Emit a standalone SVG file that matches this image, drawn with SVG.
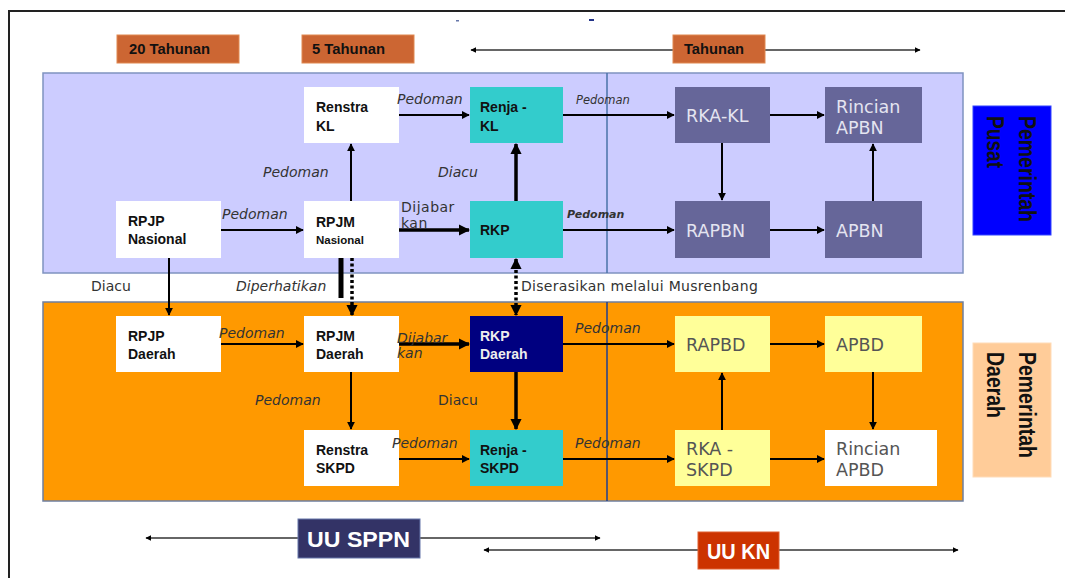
<svg xmlns="http://www.w3.org/2000/svg" width="1065" height="578" viewBox="0 0 1065 578">
<defs>
<marker id="ah" viewBox="0 0 10 10" refX="9" refY="5" markerWidth="4" markerHeight="4" orient="auto-start-reverse" markerUnits="strokeWidth"><path d="M0,0 L10,5 L0,10 z" fill="#000"/></marker>
<marker id="ahT" viewBox="0 0 10 10" refX="9" refY="5" markerWidth="3.2" markerHeight="3.2" orient="auto-start-reverse" markerUnits="strokeWidth"><path d="M0,0 L10,5 L0,10 z" fill="#000"/></marker>
</defs>
<style>
.c{stroke:#000;stroke-width:2;fill:none;marker-end:url(#ah)}
.t{stroke:#000;stroke-width:3.5;fill:none;marker-end:url(#ahT)}
.d{stroke:#000;stroke-width:3.5;fill:none;stroke-dasharray:3 2.5;marker-end:url(#ahT)}
.r{stroke:#333;stroke-width:1.5;fill:none;marker-start:url(#ah);marker-end:url(#ah)}
.nb{font-family:"Liberation Sans",Arial,sans-serif;font-weight:bold;font-size:14px;fill:#111}
.nv{font-family:"DejaVu Sans",Verdana,sans-serif;font-size:17.5px}
.lab{font-family:"DejaVu Sans",Verdana,sans-serif;font-style:italic;font-size:14px;fill:#333}
.labn{font-family:"DejaVu Sans",Verdana,sans-serif;font-size:14px;fill:#333}
.hd{font-family:"Liberation Sans",Arial,sans-serif;font-weight:bold;font-size:14px;fill:#111}
.side{font-family:"Liberation Sans",Arial,sans-serif;font-weight:bold;font-size:23px;fill:#111}
.uu{font-family:"Liberation Sans",Arial,sans-serif;font-weight:bold;font-size:22px;fill:#fff}
</style>
<rect width="1065" height="578" fill="#fff"/>
<path d="M9,578 V11 H1065" fill="none" stroke="#222" stroke-width="2"/>
<rect x="456" y="20" width="3" height="1.5" fill="#6677aa"/>
<rect x="589" y="19" width="5" height="2" fill="#223388"/>

<g id="panels">
<rect x="43" y="73" width="920" height="200" fill="#CCCCFF" stroke="#7F93C0" stroke-width="1.5"/>
<line x1="607" y1="73" x2="607" y2="273" stroke="#4A73A8" stroke-width="1.5"/>
<rect x="43" y="302" width="920" height="199" fill="#FF9900" stroke="#6E7FA0" stroke-width="1.5"/>
<line x1="607" y1="302" x2="607" y2="501" stroke="#1F3F8F" stroke-width="1.5"/>
</g>

<g id="timeline">
<line x1="471" y1="50" x2="920" y2="50" class="r"/>
<line x1="146" y1="538" x2="600" y2="538" class="r"/>
<line x1="484" y1="550" x2="958" y2="550" class="r"/>
</g>
<g id="hdr20"><rect x="117" y="35" width="122" height="28" fill="#CC6633" stroke="#E08850"/><text x="129" y="54" class="hd" textLength="81" lengthAdjust="spacingAndGlyphs">20 Tahunan</text></g>
<g id="hdr5"><rect x="302" y="35" width="112" height="28" fill="#CC6633" stroke="#E08850"/><text x="312" y="54" class="hd" textLength="73" lengthAdjust="spacingAndGlyphs">5 Tahunan</text></g>
<g id="hdrT"><rect x="673" y="35" width="92" height="28" fill="#CC6633" stroke="#E08850"/><text x="684" y="54" class="hd" textLength="60" lengthAdjust="spacingAndGlyphs">Tahunan</text></g>
<g id="uusppn"><rect x="298" y="519" width="122" height="39" fill="#333366" stroke="#6677aa"/><text x="307" y="547" class="uu" textLength="103" lengthAdjust="spacingAndGlyphs">UU SPPN</text></g>
<g id="uukn"><rect x="698" y="532" width="81" height="37" fill="#CC3300" stroke="#E06030"/><text x="707" y="559" class="uu" textLength="63" lengthAdjust="spacingAndGlyphs">UU KN</text></g>

<g id="pusat"><rect x="973" y="106" width="78" height="129" fill="#0000FF" stroke="#3344ff"/>
<text class="side" transform="translate(1019,116) rotate(90)" textLength="106" lengthAdjust="spacingAndGlyphs">Pemerintah</text>
<text class="side" transform="translate(987,116) rotate(90)" textLength="52" lengthAdjust="spacingAndGlyphs">Pusat</text></g>
<g id="daerah"><rect x="973" y="343" width="78" height="134" fill="#FFCC99" stroke="#ffdcb8"/>
<text class="side" transform="translate(1019,352) rotate(90)" textLength="106" lengthAdjust="spacingAndGlyphs">Pemerintah</text>
<text class="side" transform="translate(987,352) rotate(90)" textLength="66" lengthAdjust="spacingAndGlyphs">Daerah</text></g>

<g id="connectors">
<line x1="399" y1="115" x2="469" y2="115" class="c"/>
<line x1="563" y1="115" x2="674" y2="115" class="c"/>
<line x1="770" y1="115" x2="824" y2="115" class="c"/>
<line x1="722" y1="143" x2="722" y2="200" class="c"/>
<line x1="873" y1="201" x2="873" y2="144" class="c"/>
<line x1="770" y1="230" x2="824" y2="230" class="c"/>
<line x1="563" y1="230" x2="674" y2="230" class="c"/>
<line x1="516" y1="201" x2="516" y2="144" class="t"/>
<line x1="221" y1="230" x2="303" y2="230" class="c"/>
<line x1="351" y1="201" x2="351" y2="144" class="c"/>
<line x1="399" y1="230" x2="469" y2="230" class="t"/>
<line x1="169" y1="258" x2="169" y2="315" class="c"/>
<line x1="341" y1="254" x2="341" y2="298" stroke="#000" stroke-width="5"/>
<line x1="352" y1="258" x2="352" y2="315" class="d"/>
<line x1="516" y1="259" x2="516" y2="315" class="d" style="marker-start:url(#ahT)"/>
<line x1="221" y1="344" x2="303" y2="344" class="c"/>
<line x1="399" y1="344" x2="469" y2="344" class="t"/>
<line x1="563" y1="344" x2="674" y2="344" class="c"/>
<line x1="770" y1="344" x2="824" y2="344" class="c"/>
<line x1="873" y1="372" x2="873" y2="429" class="c"/>
<line x1="722" y1="430" x2="722" y2="373" class="c"/>
<line x1="770" y1="459" x2="824" y2="459" class="c"/>
<line x1="563" y1="459" x2="674" y2="459" class="c"/>
<line x1="399" y1="459" x2="469" y2="459" class="c"/>
<line x1="351" y1="372" x2="351" y2="429" class="c"/>
<line x1="516" y1="372" x2="516" y2="429" class="t"/>
</g>

<g id="renstraKL"><rect x="304" y="87" width="95" height="56" fill="#fff"/><text x="316" y="112" class="nb">Renstra</text><text x="316" y="131" class="nb">KL</text></g>
<g id="renjaKL"><rect x="470" y="87" width="93" height="56" fill="#33CCCC"/><text x="480" y="112" class="nb">Renja -</text><text x="480" y="131" class="nb">KL</text></g>
<g id="rkaKL"><rect x="675" y="87" width="95" height="56" fill="#666699"/><text x="686" y="122" class="nv" fill="#E4E4F0">RKA-KL</text></g>
<g id="rincianAPBN"><rect x="825" y="87" width="97" height="56" fill="#666699"/><text x="836" y="113" class="nv" fill="#E4E4F0">Rincian</text><text x="836" y="134" class="nv" fill="#E4E4F0">APBN</text></g>
<g id="rpjpNas"><rect x="116" y="201" width="105" height="57" fill="#fff"/><text x="128" y="226" class="nb">RPJP</text><text x="128" y="244" class="nb">Nasional</text></g>
<g id="rpjmNas"><rect x="304" y="201" width="95" height="57" fill="#fff"/><text x="316" y="227" class="nb">RPJM</text><text x="316" y="244" class="nb" style="font-size:11.5px">Nasional</text></g>
<g id="rkp"><rect x="470" y="201" width="93" height="57" fill="#33CCCC"/><text x="480" y="235" class="nb">RKP</text></g>
<g id="rapbn"><rect x="675" y="201" width="95" height="57" fill="#666699"/><text x="686" y="237" class="nv" fill="#E4E4F0">RAPBN</text></g>
<g id="apbn"><rect x="825" y="201" width="97" height="57" fill="#666699"/><text x="836" y="237" class="nv" fill="#E4E4F0">APBN</text></g>

<g id="rpjpDaerah"><rect x="116" y="316" width="105" height="56" fill="#fff"/><text x="128" y="341" class="nb">RPJP</text><text x="128" y="359" class="nb">Daerah</text></g>
<g id="rpjmDaerah"><rect x="304" y="316" width="95" height="56" fill="#fff"/><text x="316" y="341" class="nb">RPJM</text><text x="316" y="359" class="nb">Daerah</text></g>
<g id="rkpDaerah"><rect x="470" y="316" width="93" height="56" fill="#000080"/><text x="480" y="341" class="nb" style="fill:#eee">RKP</text><text x="480" y="359" class="nb" style="fill:#eee">Daerah</text></g>
<g id="rapbd"><rect x="675" y="316" width="95" height="56" fill="#FFFF99"/><text x="686" y="351" class="nv" fill="#555">RAPBD</text></g>
<g id="apbd"><rect x="825" y="316" width="97" height="56" fill="#FFFF99"/><text x="836" y="351" class="nv" fill="#555">APBD</text></g>
<g id="renstraSKPD"><rect x="304" y="430" width="95" height="56" fill="#fff"/><text x="316" y="455" class="nb">Renstra</text><text x="316" y="473" class="nb">SKPD</text></g>
<g id="renjaSKPD"><rect x="470" y="430" width="93" height="56" fill="#33CCCC"/><text x="480" y="455" class="nb">Renja -</text><text x="480" y="473" class="nb">SKPD</text></g>
<g id="rkaSKPD"><rect x="675" y="430" width="95" height="56" fill="#FFFF99"/><text x="686" y="455" class="nv" fill="#555">RKA -</text><text x="686" y="476" class="nv" fill="#555">SKPD</text></g>
<g id="rincianAPBD"><rect x="825" y="430" width="112" height="56" fill="#fff"/><text x="836" y="455" class="nv" fill="#555">Rincian</text><text x="836" y="476" class="nv" fill="#555">APBD</text></g>

<g id="labels">
<text x="397" y="104" class="lab">Pedoman</text>
<text x="576" y="104" class="lab" style="font-size:11.5px">Pedoman</text>
<text x="567" y="218" class="lab" style="font-size:11px;font-weight:bold">Pedoman</text>
<text x="438" y="177" class="lab">Diacu</text>
<text x="263" y="177" class="lab">Pedoman</text>
<text x="222" y="219" class="lab">Pedoman</text>
<text x="401" y="212" class="labn" letter-spacing="0.5">Dijabar</text>
<text x="401" y="228" class="labn" letter-spacing="0.5">kan</text>
<text x="91" y="291" class="labn">Diacu</text>
<text x="236" y="291" class="lab">Diperhatikan</text>
<text x="521" y="291" class="labn" letter-spacing="0.3">Diserasikan melalui Musrenbang</text>
<text x="219" y="338" class="lab">Pedoman</text>
<text x="397" y="343" class="lab">Dijabar</text>
<text x="397" y="358" class="lab">kan</text>
<text x="575" y="333" class="lab">Pedoman</text>
<text x="255" y="405" class="lab">Pedoman</text>
<text x="438" y="405" class="labn">Diacu</text>
<text x="392" y="448" class="lab">Pedoman</text>
<text x="575" y="448" class="lab">Pedoman</text>
</g>
</svg>
